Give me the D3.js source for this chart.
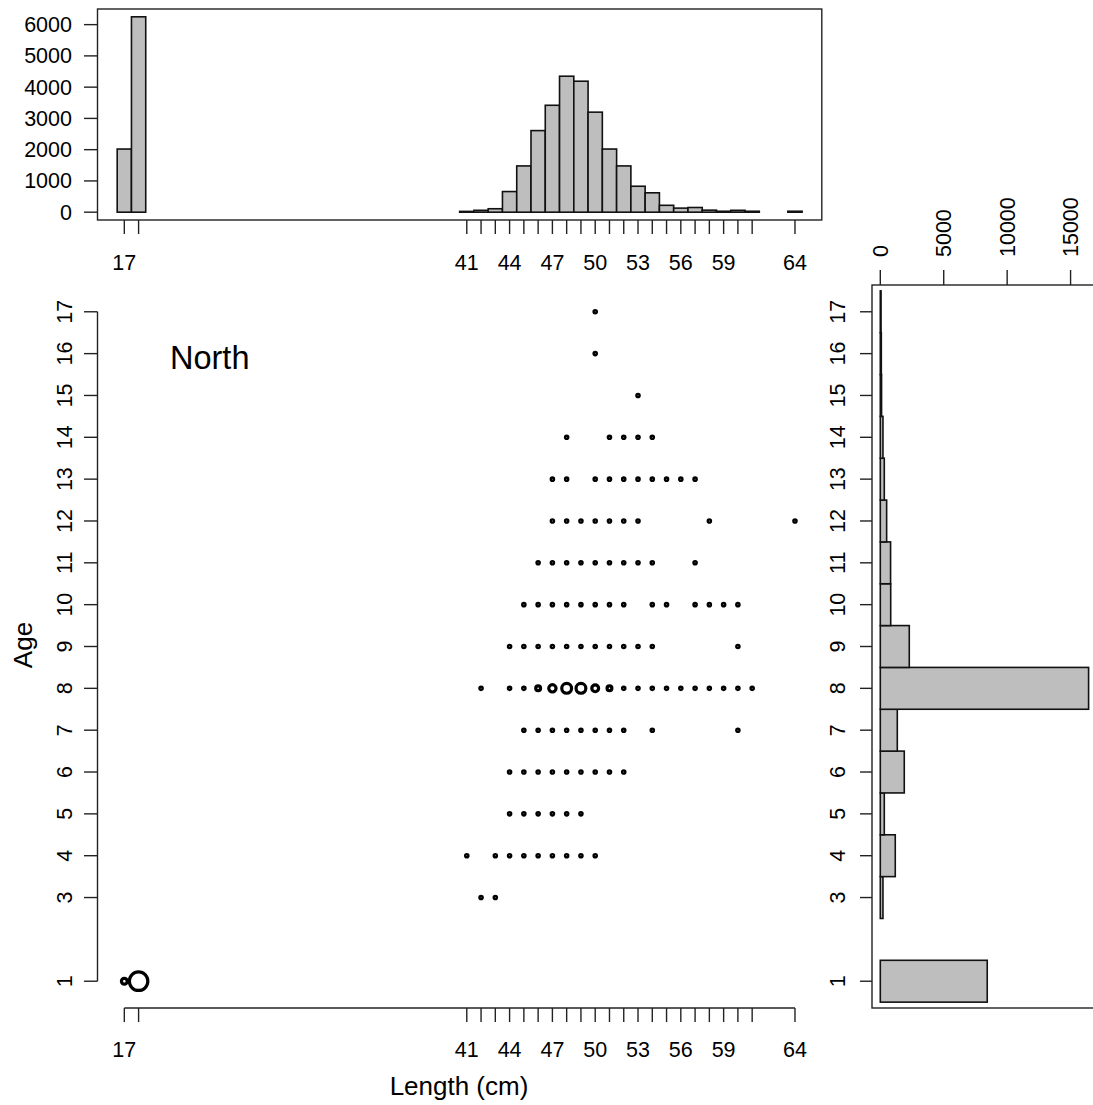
<!DOCTYPE html>
<html>
<head>
<meta charset="utf-8">
<script src="https://cdn.jsdelivr.net/npm/d3@7"></script>
<style>
  body { margin: 0; background: #fff; }
  svg text { font-family: "Liberation Sans", Arial, sans-serif; fill: #000; }
</style>
</head>
<body>
<svg id="chart" width="1093" height="1105"></svg>
<script>
// length frequencies (top histogram)
const lengths = [17, 18, 41, 42, 43, 44, 45, 46, 47, 48, 49, 50, 51, 52, 53, 54, 55, 56, 57, 58, 59, 60, 61, 64];
const lengthCounts = [2020, 6250, 25, 60, 110, 660, 1480, 2610, 3420, 4350, 4190, 3200, 2020, 1480, 830, 620, 220, 130, 150, 65, 30, 60, 30, 30];
const lengthLabels = [17, 41, 44, 47, 50, 53, 56, 59, 64];

// age frequencies (right histogram)
const ages = [1, 3, 4, 5, 6, 7, 8, 9, 10, 11, 12, 13, 14, 15, 16, 17];
const ageCounts = [8430, 210, 1180, 315, 1890, 1340, 16420, 2285, 820, 810, 500, 315, 210, 100, 80, 60];
const ageTicks = [0, 5000, 10000, 15000];
const topTicks = [0, 1000, 2000, 3000, 4000, 5000, 6000];

// age-length key: [age, length, count]
const ageLength = [
  [1, 17, 2020], [1, 18, 6250],
  [3, 42, 100], [3, 43, 110],
  [4, 41, 20], [4, 43, 40], [4, 44, 150], [4, 45, 250], [4, 46, 260], [4, 47, 220], [4, 48, 150], [4, 49, 60], [4, 50, 30],
  [5, 44, 40], [5, 45, 80], [5, 46, 80], [5, 47, 60], [5, 48, 40], [5, 49, 15],
  [6, 44, 120], [6, 45, 250], [6, 46, 350], [6, 47, 400], [6, 48, 330], [6, 49, 230], [6, 50, 120], [6, 51, 60], [6, 52, 30],
  [7, 45, 100], [7, 46, 200], [7, 47, 250], [7, 48, 260], [7, 49, 230], [7, 50, 160], [7, 51, 80], [7, 52, 40], [7, 54, 10], [7, 60, 10],
  [8, 42, 40], [8, 44, 300], [8, 45, 600], [8, 46, 1690], [8, 47, 2520], [8, 48, 3350], [8, 49, 3350], [8, 50, 2350], [8, 51, 1690],
  [8, 52, 650], [8, 53, 350], [8, 54, 250], [8, 55, 100], [8, 56, 60], [8, 57, 60], [8, 58, 30], [8, 59, 20], [8, 60, 20], [8, 61, 30],
  [9, 44, 30], [9, 45, 100], [9, 46, 200], [9, 47, 300], [9, 48, 400], [9, 49, 450], [9, 50, 350], [9, 51, 220], [9, 52, 150], [9, 53, 60], [9, 54, 30], [9, 60, 10],
  [10, 45, 10], [10, 46, 50], [10, 47, 100], [10, 48, 150], [10, 49, 150], [10, 50, 150], [10, 51, 100], [10, 52, 60], [10, 54, 20], [10, 55, 20], [10, 57, 20], [10, 58, 10], [10, 59, 10], [10, 60, 10],
  [11, 46, 30], [11, 47, 60], [11, 48, 120], [11, 49, 160], [11, 50, 150], [11, 51, 120], [11, 52, 90], [11, 53, 50], [11, 54, 20], [11, 57, 20],
  [12, 47, 30], [12, 48, 60], [12, 49, 100], [12, 50, 120], [12, 51, 90], [12, 52, 60], [12, 53, 30], [12, 58, 10], [12, 64, 30],
  [13, 47, 20], [13, 48, 30], [13, 50, 60], [13, 51, 60], [13, 52, 50], [13, 53, 40], [13, 54, 20], [13, 55, 15], [13, 56, 10], [13, 57, 10],
  [14, 48, 20], [14, 51, 50], [14, 52, 60], [14, 53, 40], [14, 54, 40],
  [15, 53, 100],
  [16, 50, 80],
  [17, 50, 60]
];

const svg = d3.select("#chart");
const fs = 21.5;

const x = d3.scaleLinear().domain([15.12, 65.88]).range([97.5, 821.8]);
const y = d3.scaleLinear().domain([0.36, 17.64]).range([1008, 285]);
const yTop = d3.scaleLinear().domain([-250, 6500]).range([220, 9]);
const xRight = d3.scaleLinear().domain([-654, 17004]).range([872, 1096]);
const size = d3.scaleLinear().domain([0, 6250]).range([1.47, 10.85]);

// ---------- top histogram ----------
const topG = svg.append("g");
topG.selectAll("rect.bar")
  .data(lengths)
  .enter().append("rect")
  .attr("class", "bar")
  .attr("x", d => x(d - 0.5))
  .attr("width", d => x(d + 0.5) - x(d - 0.5))
  .attr("y", (d, i) => yTop(lengthCounts[i]))
  .attr("height", (d, i) => yTop(0) - yTop(lengthCounts[i]))
  .attr("fill", "#bebebe")
  .attr("stroke", "#111")
  .attr("stroke-width", 1.6);

topG.append("rect")
  .attr("x", 97.5).attr("y", 9)
  .attr("width", 821.8 - 97.5).attr("height", 211)
  .attr("fill", "none").attr("stroke", "#222").attr("stroke-width", 1.4);

topG.selectAll("line.yt").data(topTicks).enter().append("line")
  .attr("x1", 84).attr("x2", 97.5)
  .attr("y1", d => yTop(d)).attr("y2", d => yTop(d))
  .attr("stroke", "#222").attr("stroke-width", 1.4);
topG.selectAll("text.yt").data(topTicks).enter().append("text")
  .attr("x", 72).attr("y", d => yTop(d)).attr("dy", "0.35em")
  .attr("text-anchor", "end").attr("font-size", fs)
  .text(d => d);

topG.selectAll("line.xt").data(lengths).enter().append("line")
  .attr("x1", d => x(d)).attr("x2", d => x(d))
  .attr("y1", 220).attr("y2", 234)
  .attr("stroke", "#222").attr("stroke-width", 1.4);
topG.selectAll("text.xt").data(lengthLabels).enter().append("text")
  .attr("x", d => x(d)).attr("y", 270)
  .attr("text-anchor", "middle").attr("font-size", fs)
  .text(d => d);

// ---------- main scatter ----------
const mainG = svg.append("g");
mainG.append("line")
  .attr("x1", 97.5).attr("x2", 97.5)
  .attr("y1", y(1)).attr("y2", y(17))
  .attr("stroke", "#222").attr("stroke-width", 1.4);
mainG.selectAll("line.yt").data(ages).enter().append("line")
  .attr("x1", 84).attr("x2", 97.5)
  .attr("y1", d => y(d)).attr("y2", d => y(d))
  .attr("stroke", "#222").attr("stroke-width", 1.4);
mainG.selectAll("text.yt").data(ages).enter().append("text")
  .attr("transform", d => `translate(71.5,${y(d)}) rotate(-90)`)
  .attr("text-anchor", "middle").attr("font-size", fs)
  .text(d => d);

mainG.append("line")
  .attr("x1", x(17)).attr("x2", x(64))
  .attr("y1", 1008).attr("y2", 1008)
  .attr("stroke", "#222").attr("stroke-width", 1.4);
mainG.selectAll("line.xt").data(lengths).enter().append("line")
  .attr("x1", d => x(d)).attr("x2", d => x(d))
  .attr("y1", 1008).attr("y2", 1022)
  .attr("stroke", "#222").attr("stroke-width", 1.4);
mainG.selectAll("text.xt").data(lengthLabels).enter().append("text")
  .attr("x", d => x(d)).attr("y", 1057)
  .attr("text-anchor", "middle").attr("font-size", fs)
  .text(d => d);

// open circles sized by count; small ones close up into dots
mainG.selectAll("circle")
  .data(ageLength)
  .enter().append("circle")
  .attr("cx", d => x(d[1]))
  .attr("cy", d => y(d[0]))
  .attr("r", d => Math.max(2.8, size(d[2])) - 1.6)
  .attr("fill", "none")
  .attr("stroke", "#000")
  .attr("stroke-width", 3.2);

mainG.append("text")
  .attr("x", 459).attr("y", 1095)
  .attr("text-anchor", "middle").attr("font-size", 26)
  .text("Length (cm)");
mainG.append("text")
  .attr("transform", "translate(32,645) rotate(-90)")
  .attr("text-anchor", "middle").attr("font-size", 26)
  .text("Age");
mainG.append("text")
  .attr("x", 170).attr("y", 369)
  .attr("font-size", 32.5)
  .text("North");

// ---------- right histogram ----------
const rightG = svg.append("g");
rightG.selectAll("rect.bar")
  .data(ages)
  .enter().append("rect")
  .attr("class", "bar")
  .attr("x", xRight(0))
  .attr("width", (d, i) => xRight(ageCounts[i]) - xRight(0))
  .attr("y", d => y(d + 0.5))
  .attr("height", d => y(d - 0.5) - y(d + 0.5))
  .attr("fill", "#bebebe")
  .attr("stroke", "#111")
  .attr("stroke-width", 1.6);

rightG.append("rect")
  .attr("x", 872).attr("y", 285)
  .attr("width", 1096 - 872).attr("height", 1008 - 285)
  .attr("fill", "none").attr("stroke", "#222").attr("stroke-width", 1.4);

rightG.selectAll("line.yt").data(ages).enter().append("line")
  .attr("x1", 860).attr("x2", 872)
  .attr("y1", d => y(d)).attr("y2", d => y(d))
  .attr("stroke", "#222").attr("stroke-width", 1.4);
rightG.selectAll("text.yt").data(ages).enter().append("text")
  .attr("transform", d => `translate(845,${y(d)}) rotate(-90)`)
  .attr("text-anchor", "middle").attr("font-size", fs)
  .text(d => d);

rightG.selectAll("line.xt").data(ageTicks).enter().append("line")
  .attr("x1", d => xRight(d)).attr("x2", d => xRight(d))
  .attr("y1", 270).attr("y2", 285)
  .attr("stroke", "#222").attr("stroke-width", 1.4);
rightG.selectAll("text.xt").data(ageTicks).enter().append("text")
  .attr("transform", d => `translate(${xRight(d)},257) rotate(-90)`)
  .attr("dy", "0.35em")
  .attr("text-anchor", "start").attr("font-size", fs)
  .text(d => d);
</script>
</body>
</html>
